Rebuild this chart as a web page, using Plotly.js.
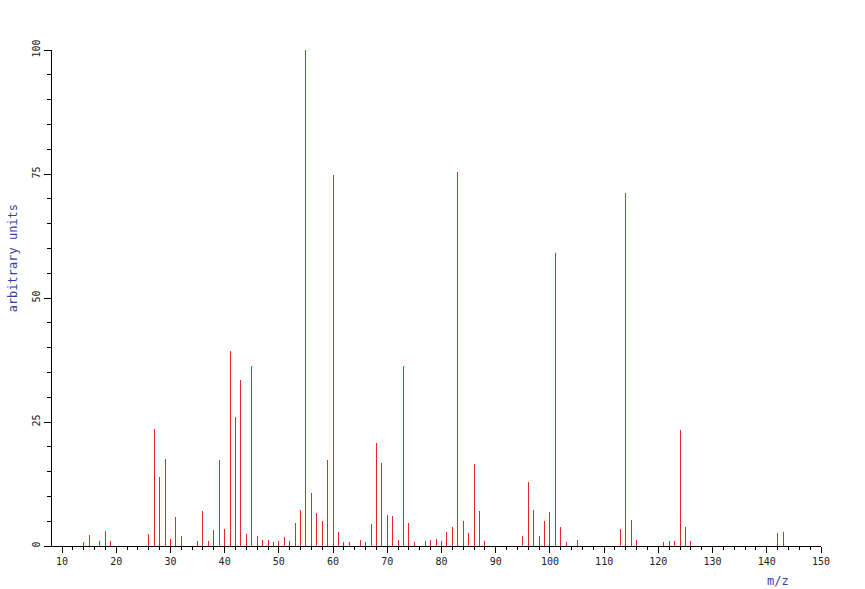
<!DOCTYPE html>
<html>
<head>
<meta charset="utf-8">
<script src="https://cdn.plot.ly/plotly-3.0.1.min.js"></script>
<style>html,body{margin:0;padding:0;background:#fff;}#chart{width:865px;height:589px;}
#chart .js-line{shape-rendering:crispEdges;}</style>
</head>
<body>
<div id="chart"></div>
<script>
var mzValues = [14,15,17,18,19,26,27,28,29,30,31,32,35,36,37,38,39,40,41,42,43,44,45,46,47,48,49,50,51,52,53,54,55,56,57,58,59,60,61,62,63,65,66,67,68,69,70,71,72,73,74,75,77,78,79,80,81,82,83,84,85,86,87,88,95,96,97,98,99,100,101,102,103,105,113,114,115,116,121,122,123,124,125,126,142,143];
var intensities = [0.9,2.2,1.1,3.1,1.1,2.4,23.6,14.0,17.6,1.5,5.9,2.1,1.1,7.1,1.1,3.2,17.4,3.4,39.3,26.0,33.5,2.4,36.3,2.0,1.3,1.3,0.9,1.1,1.8,1.1,4.6,7.3,100,10.6,6.6,5.1,17.4,74.7,2.8,0.9,0.9,1.3,0.9,4.4,20.7,16.7,6.2,6.0,1.3,36.2,4.6,0.9,1.1,1.3,1.5,1.1,2.8,3.9,75.5,5.1,2.7,16.5,7.1,1.1,2.0,13.0,7.3,2.0,5.1,6.9,59.1,3.9,0.9,1.3,3.4,71.1,5.3,1.3,0.9,1.1,1.1,23.4,3.8,1.1,2.6,2.9];
var xTitle = "m/z";
var yTitle = "arbitrary units";

var sx = [], sy = [];
for (var i = 0; i < mzValues.length; i++) {
  sx.push(mzValues[i], mzValues[i], null);
  sy.push(0, intensities[i], null);
}

var trace = {
  x: sx, y: sy, type: 'scatter', mode: 'lines',
  line: {color: '#e32626', width: 1},
  hoverinfo: 'skip', showlegend: false
};

var mono = 'DejaVu Sans Mono, monospace';
var layout = {
  width: 865, height: 589,
  margin: {l: 52, r: 44, t: 50, b: 43},
  paper_bgcolor: '#ffffff', plot_bgcolor: '#ffffff',
  showlegend: false,
  xaxis: {
    range: [8.155, 150], showgrid: false, zeroline: false,
    showline: true, linecolor: '#000', linewidth: 1,
    tickmode: 'linear', tick0: 10, dtick: 10,
    ticks: 'outside', ticklen: 6, tickcolor: '#000', tickwidth: 1,
    minor: {dtick: 2, tick0: 10, ticks: 'outside', ticklen: 3, tickcolor: '#000', showgrid: false},
    tickfont: {family: mono, size: 10, color: '#222'},
    fixedrange: true
  },
  yaxis: {
    range: [0, 100], showgrid: false, zeroline: false,
    showline: true, linecolor: '#000', linewidth: 1,
    tickmode: 'linear', tick0: 0, dtick: 25,
    ticks: 'outside', ticklen: 7, tickcolor: '#000', tickwidth: 1,
    minor: {dtick: 5, ticks: 'outside', ticklen: 4, tickcolor: '#000', showgrid: false},
    tickangle: -90,
    tickfont: {family: mono, size: 10, color: '#222'},
    fixedrange: true
  },
  annotations: [
    {text: yTitle, xref: 'paper', yref: 'paper', x: -0.0507, y: 0.58, xanchor: 'center', yanchor: 'middle',
     textangle: -90, showarrow: false, font: {family: mono, size: 12, color: '#3a3aa8'}},
    {text: xTitle, xref: 'paper', yref: 'paper', x: 0.944, y: 0, yshift: -35, xanchor: 'center', yanchor: 'middle',
     showarrow: false, font: {family: mono, size: 12, color: '#3a3aa8'}}
  ]
};

Plotly.newPlot('chart', [trace], layout, {displayModeBar: false, staticPlot: true});
</script>
</body>
</html>
